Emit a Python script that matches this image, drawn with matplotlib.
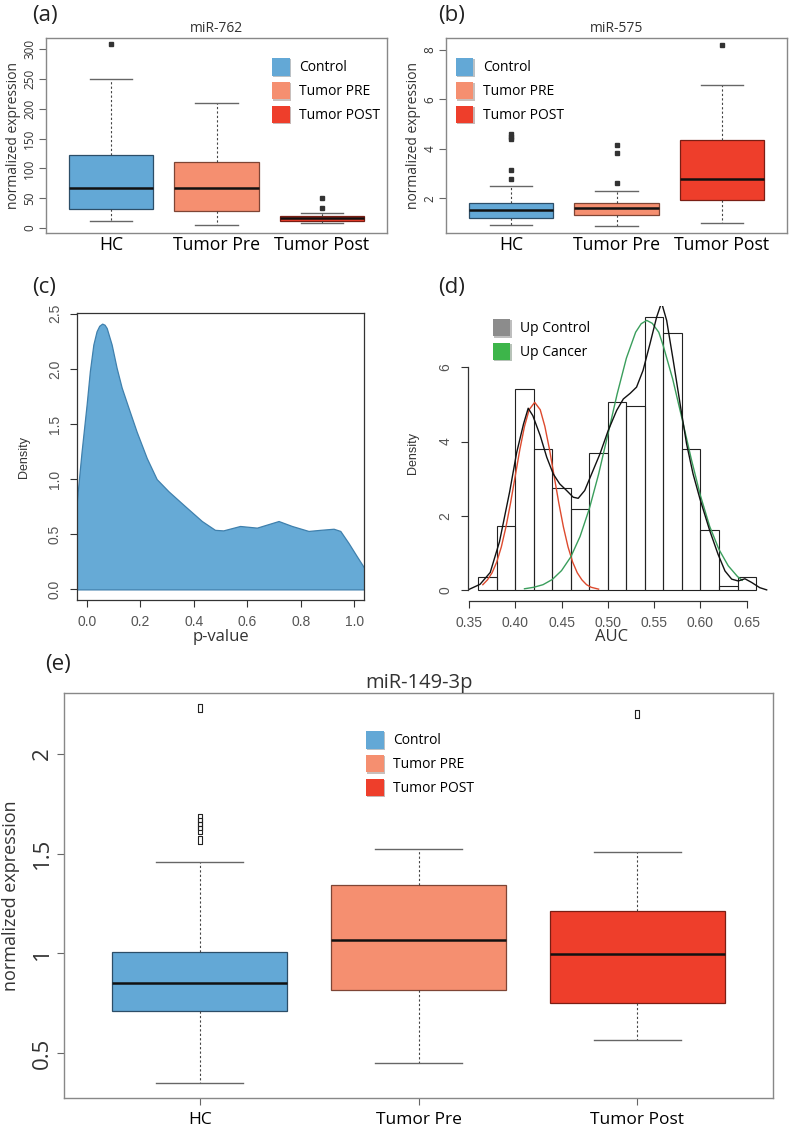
import numpy as np
import matplotlib.pyplot as plt
from matplotlib.patches import Patch
from matplotlib import patheffects as pe

plt.rcParams['font.family'] = ['Open Sans', 'DejaVu Sans']

groups = ['HC', 'Tumor Pre', 'Tumor Post']
legend_names = ['Control', 'Tumor PRE', 'Tumor POST']
box_colors = ['#63a8d6', '#f58f70', '#ee3e2b']
box_edges = ['#2c4e68', '#7e4535', '#7a1e14']

# (a) miR-762
mir762_lo = [11, 4.5, 8]
mir762_q1 = [32, 29, 12]
mir762_med = [67, 67, 16]
mir762_q3 = [123, 111, 20]
mir762_hi = [250, 210, 25]
mir762_out = [[308], [], [33, 50]]

# (b) miR-575
mir575_lo = [0.91, 0.86, 0.98]
mir575_q1 = [1.21, 1.32, 1.92]
mir575_med = [1.51, 1.62, 2.77]
mir575_q3 = [1.82, 1.82, 4.36]
mir575_hi = [2.5, 2.3, 6.57]
mir575_out = [[2.76, 3.14, 4.4, 4.5, 4.6], [2.6, 3.82, 4.17], [8.2]]

# (c) density of p-values
pval_x = [-0.039, -0.02, -0.001, 0.011, 0.024, 0.036, 0.046, 0.057, 0.066,
          0.074, 0.0925, 0.111, 0.13, 0.155, 0.186, 0.224, 0.261, 0.305,
          0.367, 0.43, 0.479, 0.51, 0.573, 0.636, 0.717, 0.767, 0.829, 0.873,
          0.923, 0.948, 0.979, 1.01, 1.039]
pval_d = [0.77, 1.25, 1.68, 1.98, 2.22, 2.34, 2.39, 2.41, 2.40,
          2.37, 2.22, 2.01, 1.83, 1.65, 1.43, 1.19, 1.0, 0.89,
          0.755, 0.62, 0.54, 0.535, 0.575, 0.56, 0.62, 0.575, 0.53, 0.54,
          0.55, 0.53, 0.42, 0.30, 0.19]

# (d) histogram of AUC
auc_edges = [0.36, 0.38, 0.40, 0.42, 0.44, 0.46, 0.48, 0.50, 0.52, 0.54,
             0.56, 0.58, 0.60, 0.62, 0.64, 0.66]
auc_density = [0.35, 1.73, 5.41, 3.79, 2.76, 2.19, 3.68, 5.06, 4.95, 7.37,
               6.92, 3.79, 1.61, 0.11, 0.34]
auc_kde_x = [0.349, 0.362, 0.373, 0.383, 0.394, 0.4015, 0.409, 0.414, 0.419,
             0.427, 0.434, 0.441, 0.448, 0.4555, 0.4626, 0.468, 0.475, 0.4825,
             0.4915, 0.5004, 0.5095, 0.5167, 0.524, 0.531, 0.538, 0.5455,
             0.5527, 0.558, 0.5635, 0.5706, 0.578, 0.585, 0.592, 0.5995, 0.61,
             0.619, 0.6265, 0.6337, 0.6408, 0.648, 0.6553, 0.664, 0.6715]
auc_kde_d = [0, 0.15, 0.47, 1.3, 2.65, 3.7, 4.48, 4.9, 4.7,
             4.16, 3.58, 3.13, 2.86, 2.68, 2.5, 2.47, 2.68, 3.13,
             3.67, 4.3, 4.84, 5.15, 5.3, 5.47, 5.92, 6.64,
             7.36, 7.75, 7.27, 6.19, 5.02, 3.94, 3.13, 2.45, 1.6,
             0.96, 0.51, 0.29, 0.24, 0.3, 0.2, 0.06, 0]
ctrl_fit_x = [0.365, 0.37, 0.375, 0.38, 0.385, 0.39, 0.395, 0.40, 0.405, 0.41,
              0.415, 0.421, 0.427, 0.432, 0.437, 0.442, 0.447, 0.452, 0.457,
              0.462, 0.467, 0.472, 0.477, 0.482, 0.49]
ctrl_fit_d = [0.14, 0.27, 0.46, 0.75, 1.16, 1.70, 2.35, 3.07, 3.79, 4.41,
              4.86, 5.06, 4.86, 4.41, 3.79, 3.07, 2.35, 1.70, 1.16,
              0.75, 0.46, 0.27, 0.14, 0.07, 0.02]
canc_fit_x = [0.41, 0.42, 0.43, 0.44, 0.45, 0.46, 0.47, 0.48, 0.49, 0.50,
              0.51, 0.52, 0.53, 0.536, 0.542, 0.548, 0.555, 0.56, 0.57, 0.58,
              0.59, 0.60, 0.61, 0.62, 0.63, 0.64, 0.645]
canc_fit_d = [0.03, 0.07, 0.14, 0.28, 0.52, 0.89, 1.44, 2.19, 3.12, 4.19,
              5.28, 6.25, 6.95, 7.18, 7.27, 7.19, 6.95, 6.57, 5.69, 4.63,
              3.54, 2.54, 1.71, 1.09, 0.65, 0.36, 0.26]

# (e) miR-149-3p
mir149_lo = [0.35, 0.451, 0.565]
mir149_q1 = [0.712, 0.814, 0.75]
mir149_med = [0.853, 1.067, 0.997]
mir149_q3 = [1.008, 1.343, 1.213]
mir149_hi = [1.456, 1.525, 1.507]
mir149_out = [[1.57, 1.62, 1.64, 1.66, 1.68, 2.23], [], [2.2]]


def draw_box(ax, lo, q1, med, q3, hi, out, flier):
    stats = []
    for i in range(len(groups)):
        stats.append(dict(whislo=lo[i], q1=q1[i], med=med[i], q3=q3[i],
                          whishi=hi[i], fliers=out[i]))
    bp = ax.bxp(stats, positions=[1, 2, 3], widths=0.8, capwidths=0.4,
                patch_artist=True,
                whiskerprops=dict(linestyle=(0, (2, 2)), color='#444444', lw=0.8),
                capprops=dict(color='#666666', lw=1),
                medianprops=dict(color='#111111', lw=1.8),
                flierprops=flier)
    for patch, fc, ec in zip(bp['boxes'], box_colors, box_edges):
        patch.set_facecolor(fc)
        patch.set_edgecolor(ec)
        patch.set_linewidth(0.9)
    ax.set_xlim(0.38, 3.62)
    for s in ax.spines.values():
        s.set_color('#888888')
        s.set_linewidth(1)


def add_legend(ax, names, colors, x, y, size=10):
    handles = [Patch(facecolor=c, edgecolor='none') for c in colors]
    leg = ax.legend(handles, names, loc='upper left', bbox_to_anchor=(x, y),
                    frameon=False, prop={'family': 'Open Sans', 'size': size},
                    handlelength=1.26, handleheight=1.56, handletextpad=0.7,
                    labelspacing=0.45, borderpad=0, borderaxespad=0)
    for p in leg.get_patches():
        p.set_path_effects([pe.SimplePatchShadow(offset=(1, -1), alpha=0.3),
                            pe.Normal()])
    return leg


fig = plt.figure(figsize=(8, 11.28), dpi=100)

small_dot = dict(marker='s', markersize=2.3, markerfacecolor='#333333',
                 markeredgecolor='#333333')

# ---- (a)
ax = fig.add_axes([0.0575, 0.7934, 0.4263, 0.1729])
draw_box(ax, mir762_lo, mir762_q1, mir762_med, mir762_q3, mir762_hi,
         mir762_out, small_dot)
ax.set_ylim(-8.4, 318.4)
ax.set_yticks([0, 50, 100, 150, 200, 250, 300])
ax.set_xticks([1, 2, 3])
ax.set_xticklabels(groups, fontsize=12.7)
ax.tick_params(axis='x', length=0, pad=2)
ax.tick_params(axis='y', length=5, color='#666666', labelsize=8.5, pad=2,
               labelcolor='#333333')
plt.setp(ax.get_yticklabels(), rotation=90, va='center')
ax.set_title('miR-762', fontsize=10, pad=4, color='#333333')
ax.set_ylabel('normalized expression', fontsize=10, va='center', color='#333333')
ax.yaxis.set_label_coords(-0.095, 0.5)
add_legend(ax, legend_names, box_colors, 0.663, 0.897)

# ---- (b)
ax = fig.add_axes([0.5575, 0.7934, 0.4263, 0.1729])
draw_box(ax, mir575_lo, mir575_q1, mir575_med, mir575_q3, mir575_hi,
         mir575_out, small_dot)
ax.set_ylim(0.59, 8.49)
ax.set_yticks([2, 4, 6, 8])
ax.set_xticks([1, 2, 3])
ax.set_xticklabels(groups, fontsize=12.7)
ax.tick_params(axis='x', length=0, pad=2)
ax.tick_params(axis='y', length=5, color='#666666', labelsize=8.5, pad=2,
               labelcolor='#333333')
plt.setp(ax.get_yticklabels(), rotation=90, va='center')
ax.set_title('miR-575', fontsize=10, pad=4, color='#333333')
ax.set_ylabel('normalized expression', fontsize=10, va='center', color='#333333')
ax.yaxis.set_label_coords(-0.095, 0.5)
add_legend(ax, legend_names, box_colors, 0.029, 0.897)

# ---- (c)
ax = fig.add_axes([0.0963, 0.4681, 0.3588, 0.2544])
ax.fill_between(pval_x, 0, pval_d, facecolor='#66aad6', edgecolor='#3f80ad',
                lw=0.9)
ax.set_xlim(-0.037, 1.037)
ax.set_ylim(-0.096, 2.506)
ax.set_xticks([0.0, 0.2, 0.4, 0.6, 0.8, 1.0])
ax.set_yticks([0.0, 0.5, 1.0, 1.5, 2.0, 2.5])
ax.set_xticklabels(['0.0', '0.2', '0.4', '0.6', '0.8', '1.0'])
ax.set_yticklabels(['0.0', '0.5', '1.0', '1.5', '2.0', '2.5'])
ax.tick_params(direction='out', length=5, width=0.8, color='#333333',
               labelcolor='#555555', labelsize=10, pad=6)
for lab in ax.get_xticklabels() + ax.get_yticklabels():
    lab.set_family('Liberation Sans')
plt.setp(ax.get_yticklabels(), rotation=90, va='center')
for s in ax.spines.values():
    s.set_color('#333333')
    s.set_linewidth(0.9)
ax.set_xlabel('p-value', fontsize=12, va='center', color='#333333')
ax.xaxis.set_label_coords(0.5, -0.128)
ax.set_ylabel('Density', fontsize=9, family='Liberation Sans', va='center',
              color='#333333')
ax.yaxis.set_label_coords(-0.185, 0.5)

# ---- (d)
ax = fig.add_axes([0.585, 0.4672, 0.3745, 0.2619])
ax.bar(auc_edges[:-1], auc_density, width=np.diff(auc_edges), align='edge',
       fill=False, edgecolor='#222222', lw=0.8)
ax.plot(ctrl_fit_x, ctrl_fit_d, color='#dd4a2e', lw=1)
ax.plot(canc_fit_x, canc_fit_d, color='#3a9e5c', lw=1)
ax.plot(auc_kde_x, auc_kde_d, color='#111111', lw=1)
ax.set_xlim(0.349, 0.6725)
ax.set_ylim(-0.3, 7.67)
ax.spines['top'].set_visible(False)
ax.spines['right'].set_visible(False)
ax.spines['left'].set_bounds(0, 6)
ax.spines['bottom'].set_bounds(0.35, 0.65)
for s in ('left', 'bottom'):
    ax.spines[s].set_color('#333333')
    ax.spines[s].set_linewidth(0.9)
ax.set_xticks([0.35, 0.40, 0.45, 0.50, 0.55, 0.60, 0.65])
ax.set_xticklabels(['0.35', '0.40', '0.45', '0.50', '0.55', '0.60', '0.65'])
ax.set_yticks([0, 2, 4, 6])
ax.tick_params(direction='out', length=5, width=0.8, color='#333333',
               labelcolor='#555555', labelsize=10, pad=6)
for lab in ax.get_xticklabels() + ax.get_yticklabels():
    lab.set_family('Liberation Sans')
plt.setp(ax.get_yticklabels(), rotation=90, va='center')
ax.set_xlabel('AUC', fontsize=12, va='center', color='#333333')
ax.xaxis.set_label_coords(0.48, -0.121)
ax.set_ylabel('Density', fontsize=9, family='Liberation Sans', va='center',
              color='#333333')
ax.yaxis.set_label_coords(-0.184, 0.5)
add_legend(ax, ['Up Control', 'Up Cancer'], ['#8c8c8c', '#3db54a'], 0.083, 0.955)

# ---- (e)
rect = [(-0.5, -1), (0.5, -1), (0.5, 1), (-0.5, 1), (-0.5, -1)]
open_rect = dict(marker=rect, markersize=6, markerfacecolor='none',
                 markeredgecolor='#222222', markeredgewidth=0.8)
ax = fig.add_axes([0.08, 0.0266, 0.8863, 0.3590])
draw_box(ax, mir149_lo, mir149_q1, mir149_med, mir149_q3, mir149_hi,
         mir149_out, open_rect)
ax.set_ylim(0.274, 2.306)
ax.set_yticks([0.5, 1, 1.5, 2])
ax.set_yticklabels(['0.5', '1', '1.5', '2'])
ax.set_xticks([1, 2, 3])
ax.set_xticklabels(groups, fontsize=12.5)
ax.tick_params(axis='x', length=5, color='#666666', pad=5)
ax.tick_params(axis='y', length=5, color='#666666', labelsize=16, pad=3,
               labelcolor='#333333')
plt.setp(ax.get_yticklabels(), rotation=90, va='center')
ax.set_title('miR-149-3p', fontsize=14.5, pad=2, color='#333333')
ax.set_ylabel('normalized expression', fontsize=13, va='center', color='#333333')
ax.yaxis.set_label_coords(-0.075, 0.5)
add_legend(ax, legend_names, box_colors, 0.426, 0.906)

# panel letters
for lab, x, y in [('(a)', 0.04, 0.9863), ('(b)', 0.5475, 0.9863),
                  ('(c)', 0.04, 0.7451), ('(d)', 0.5475, 0.7451),
                  ('(e)', 0.056, 0.4105)]:
    fig.text(x, y, lab, fontsize=16, va='center', ha='left', color='#222222')

fig.savefig('out.png', dpi=100)
